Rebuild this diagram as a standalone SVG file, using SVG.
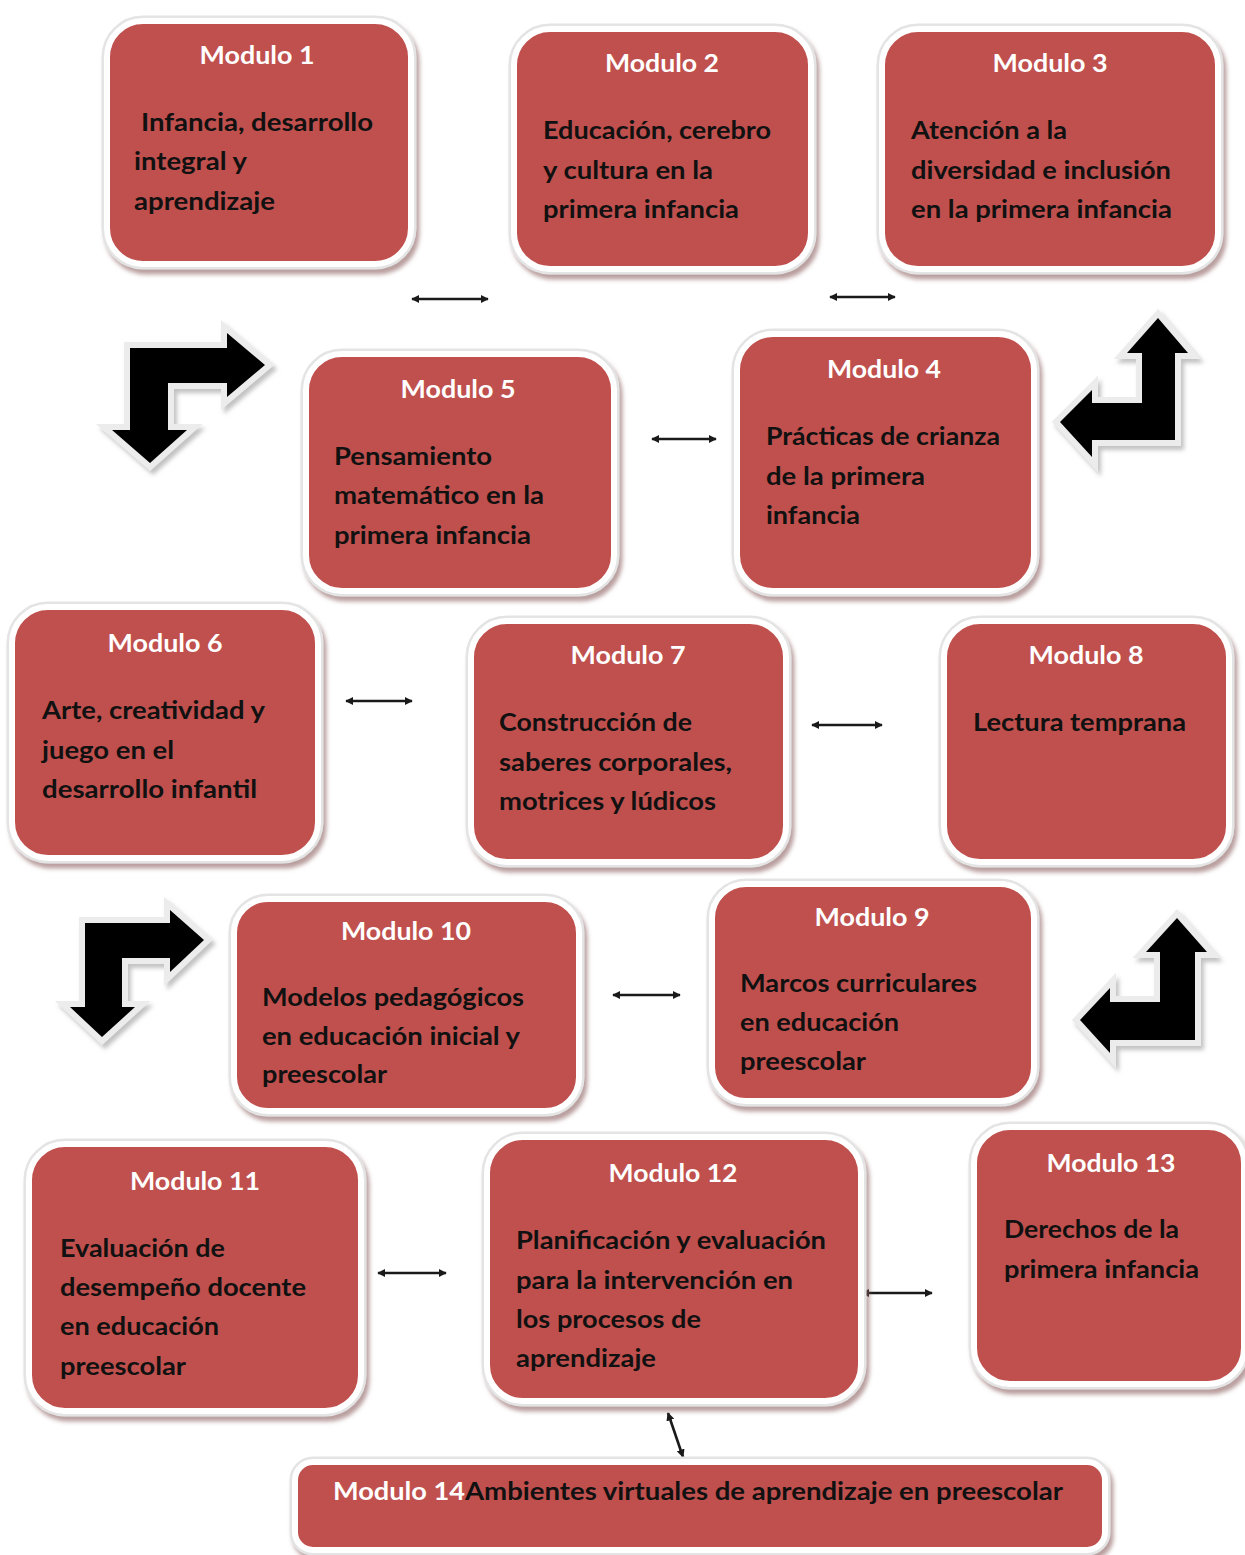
<svg xmlns="http://www.w3.org/2000/svg" width="1245" height="1555" viewBox="0 0 1245 1555">
<defs>
<style>
.halo{fill:#C0504D;stroke:#e4e4e4;stroke-width:11;filter:url(#sh)}
.f{fill:#C0504D;stroke:#ffffff;stroke-width:6}
.t{font-family:Lato,"Open Sans","DejaVu Sans",sans-serif;font-weight:700;font-size:25px}
.h{fill:#ffffff;text-anchor:middle}
.hs{fill:#ffffff}
.b{fill:#111111}
.con line{stroke:#1a1a1a;stroke-width:2.6;marker-start:url(#ah);marker-end:url(#ah)}
.bh{fill:#ececec;stroke:#ececec;stroke-width:12;stroke-linejoin:miter;filter:url(#sh2)}
.bk{fill:#000000}
</style>
<filter id="sh" x="-10%" y="-10%" width="125%" height="130%">
<feDropShadow dx="3" dy="5" stdDeviation="2" flood-color="#8c5f5f" flood-opacity="0.6"/>
</filter>
<filter id="sh2" x="-20%" y="-20%" width="150%" height="150%">
<feDropShadow dx="3" dy="4" stdDeviation="2" flood-color="#9a9a9a" flood-opacity="0.6"/>
</filter>
<marker id="ah" viewBox="0 0 10 10" refX="9" refY="5" markerWidth="3.2" markerHeight="3.2" orient="auto-start-reverse">
<path d="M0,0 L10,5 L0,10 z" fill="#1a1a1a"/>
</marker>
</defs>
<rect width="1245" height="1555" fill="#ffffff"/>

<g id="bent-arrows">
<g id="bent1">
<polygon class="bh" points="130,348 227,348 227,333 265,365 227,397 227,383 168,383 168,430 187,430 150,463 112,430 130,430"/>
<polygon class="bk" points="130,348 227,348 227,333 265,365 227,397 227,383 168,383 168,430 187,430 150,463 112,430 130,430"/>
</g>
<g id="bent2">
<polygon class="bh" points="1158,318 1188,353 1175,353 1175,440 1092,440 1092,457 1060,422 1092,390 1092,403 1142,403 1142,353 1127,353"/>
<polygon class="bk" points="1158,318 1188,353 1175,353 1175,440 1092,440 1092,457 1060,422 1092,390 1092,403 1142,403 1142,353 1127,353"/>
</g>
<g id="bent3">
<polygon class="bh" points="85,923 170,923 170,910 204,940 170,972 170,958 122,958 122,1007 135,1007 102,1037 70,1007 85,1007"/>
<polygon class="bk" points="85,923 170,923 170,910 204,940 170,972 170,958 122,958 122,1007 135,1007 102,1037 70,1007 85,1007"/>
</g>
<g id="bent4">
<polygon class="bh" points="1177,918 1207,952 1195,952 1195,1040 1110,1040 1110,1053 1080,1020 1110,988 1110,1002 1160,1002 1160,952 1146,952"/>
<polygon class="bk" points="1177,918 1207,952 1195,952 1195,1040 1110,1040 1110,1053 1080,1020 1110,988 1110,1002 1160,1002 1160,952 1146,952"/>
</g>
</g>

<g id="connectors" class="con">
<line x1="412" y1="299" x2="488" y2="299"/>
<line x1="830" y1="297" x2="895" y2="297"/>
<line x1="652" y1="439" x2="716" y2="439"/>
<line x1="346" y1="701" x2="412" y2="701"/>
<line x1="812" y1="725" x2="882" y2="725"/>
<line x1="613" y1="995" x2="680" y2="995"/>
<line x1="378" y1="1273" x2="446" y2="1273"/>
<line x1="862" y1="1293" x2="932" y2="1293"/>
<line x1="668" y1="1413" x2="683" y2="1457"/>
</g>

<g id="modulo1">
<rect class="halo" x="107" y="21" width="304" height="243" rx="36"/>
<rect class="f" x="107" y="21" width="304" height="243" rx="36"/>
<text class="t h" x="257" y="64" textLength="115" lengthAdjust="spacingAndGlyphs">Modulo 1</text>
<text class="t b" x="141" y="131" textLength="232" lengthAdjust="spacingAndGlyphs">Infancia, desarrollo</text>
<text class="t b" x="134" y="170" textLength="113" lengthAdjust="spacingAndGlyphs">integral y</text>
<text class="t b" x="134" y="210" textLength="141" lengthAdjust="spacingAndGlyphs">aprendizaje</text>
</g>

<g id="modulo2">
<rect class="halo" x="514" y="29" width="297" height="240" rx="36"/>
<rect class="f" x="514" y="29" width="297" height="240" rx="36"/>
<text class="t h" x="662" y="72" textLength="114" lengthAdjust="spacingAndGlyphs">Modulo 2</text>
<text class="t b" x="543" y="139" textLength="228" lengthAdjust="spacingAndGlyphs">Educación, cerebro</text>
<text class="t b" x="543" y="179" textLength="170" lengthAdjust="spacingAndGlyphs">y cultura en la</text>
<text class="t b" x="543" y="218" textLength="196" lengthAdjust="spacingAndGlyphs">primera infancia</text>
</g>

<g id="modulo3">
<rect class="halo" x="882" y="29" width="336" height="240" rx="36"/>
<rect class="f" x="882" y="29" width="336" height="240" rx="36"/>
<text class="t h" x="1050" y="72" textLength="115" lengthAdjust="spacingAndGlyphs">Modulo 3</text>
<text class="t b" x="911" y="139" textLength="156" lengthAdjust="spacingAndGlyphs">Atención a la</text>
<text class="t b" x="911" y="179" textLength="260" lengthAdjust="spacingAndGlyphs">diversidad e inclusión</text>
<text class="t b" x="911" y="218" textLength="261" lengthAdjust="spacingAndGlyphs">en la primera infancia</text>
</g>

<g id="modulo5">
<rect class="halo" x="306" y="354" width="308" height="237" rx="36"/>
<rect class="f" x="306" y="354" width="308" height="237" rx="36"/>
<text class="t h" x="458" y="398" textLength="115" lengthAdjust="spacingAndGlyphs">Modulo 5</text>
<text class="t b" x="334" y="465" textLength="158" lengthAdjust="spacingAndGlyphs">Pensamiento</text>
<text class="t b" x="334" y="504" textLength="210" lengthAdjust="spacingAndGlyphs">matemático en la</text>
<text class="t b" x="334" y="544" textLength="197" lengthAdjust="spacingAndGlyphs">primera infancia</text>
</g>

<g id="modulo4">
<rect class="halo" x="737" y="334" width="297" height="257" rx="36"/>
<rect class="f" x="737" y="334" width="297" height="257" rx="36"/>
<text class="t h" x="884" y="378" textLength="114" lengthAdjust="spacingAndGlyphs">Modulo 4</text>
<text class="t b" x="766" y="445" textLength="234" lengthAdjust="spacingAndGlyphs">Prácticas de crianza</text>
<text class="t b" x="766" y="485" textLength="159" lengthAdjust="spacingAndGlyphs">de la primera</text>
<text class="t b" x="766" y="524" textLength="94" lengthAdjust="spacingAndGlyphs">infancia</text>
</g>

<g id="modulo6">
<rect class="halo" x="12" y="607" width="306" height="251" rx="36"/>
<rect class="f" x="12" y="607" width="306" height="251" rx="36"/>
<text class="t h" x="165" y="652" textLength="115" lengthAdjust="spacingAndGlyphs">Modulo 6</text>
<text class="t b" x="42" y="719" textLength="223" lengthAdjust="spacingAndGlyphs">Arte, creatividad y</text>
<text class="t b" x="42" y="759" textLength="132" lengthAdjust="spacingAndGlyphs">juego en el</text>
<text class="t b" x="42" y="798" textLength="215" lengthAdjust="spacingAndGlyphs">desarrollo infantil</text>
</g>

<g id="modulo7">
<rect class="halo" x="471" y="621" width="315" height="241" rx="36"/>
<rect class="f" x="471" y="621" width="315" height="241" rx="36"/>
<text class="t h" x="628" y="664" textLength="115" lengthAdjust="spacingAndGlyphs">Modulo 7</text>
<text class="t b" x="499" y="731" textLength="193" lengthAdjust="spacingAndGlyphs">Construcción de</text>
<text class="t b" x="499" y="771" textLength="233" lengthAdjust="spacingAndGlyphs">saberes corporales,</text>
<text class="t b" x="499" y="810" textLength="217" lengthAdjust="spacingAndGlyphs">motrices y lúdicos</text>
</g>

<g id="modulo8">
<rect class="halo" x="944" y="621" width="285" height="241" rx="36"/>
<rect class="f" x="944" y="621" width="285" height="241" rx="36"/>
<text class="t h" x="1086" y="664" textLength="115" lengthAdjust="spacingAndGlyphs">Modulo 8</text>
<text class="t b" x="973" y="731" textLength="213" lengthAdjust="spacingAndGlyphs">Lectura temprana</text>
</g>

<g id="modulo10">
<rect class="halo" x="234" y="899" width="345" height="212" rx="34"/>
<rect class="f" x="234" y="899" width="345" height="212" rx="34"/>
<text class="t h" x="406" y="940" textLength="130" lengthAdjust="spacingAndGlyphs">Modulo 10</text>
<text class="t b" x="262" y="1006" textLength="262" lengthAdjust="spacingAndGlyphs">Modelos pedagógicos</text>
<text class="t b" x="262" y="1045" textLength="258" lengthAdjust="spacingAndGlyphs">en educación inicial y</text>
<text class="t b" x="262" y="1083" textLength="125" lengthAdjust="spacingAndGlyphs">preescolar</text>
</g>

<g id="modulo9">
<rect class="halo" x="712" y="884" width="322" height="217" rx="34"/>
<rect class="f" x="712" y="884" width="322" height="217" rx="34"/>
<text class="t h" x="872" y="926" textLength="115" lengthAdjust="spacingAndGlyphs">Modulo 9</text>
<text class="t b" x="740" y="992" textLength="237" lengthAdjust="spacingAndGlyphs">Marcos curriculares</text>
<text class="t b" x="740" y="1031" textLength="159" lengthAdjust="spacingAndGlyphs">en educación</text>
<text class="t b" x="740" y="1070" textLength="126" lengthAdjust="spacingAndGlyphs">preescolar</text>
</g>

<g id="modulo11">
<rect class="halo" x="29" y="1144" width="332" height="267" rx="36"/>
<rect class="f" x="29" y="1144" width="332" height="267" rx="36"/>
<text class="t h" x="195" y="1190" textLength="130" lengthAdjust="spacingAndGlyphs">Modulo 11</text>
<text class="t b" x="60" y="1257" textLength="165" lengthAdjust="spacingAndGlyphs">Evaluación de</text>
<text class="t b" x="60" y="1296" textLength="246" lengthAdjust="spacingAndGlyphs">desempeño docente</text>
<text class="t b" x="60" y="1335" textLength="159" lengthAdjust="spacingAndGlyphs">en educación</text>
<text class="t b" x="60" y="1375" textLength="126" lengthAdjust="spacingAndGlyphs">preescolar</text>
</g>

<g id="modulo12">
<rect class="halo" x="487" y="1137" width="374" height="264" rx="36"/>
<rect class="f" x="487" y="1137" width="374" height="264" rx="36"/>
<text class="t h" x="673" y="1182" textLength="129" lengthAdjust="spacingAndGlyphs">Modulo 12</text>
<text class="t b" x="516" y="1249" textLength="310" lengthAdjust="spacingAndGlyphs">Planificación y evaluación</text>
<text class="t b" x="516" y="1289" textLength="277" lengthAdjust="spacingAndGlyphs">para la intervención en</text>
<text class="t b" x="516" y="1328" textLength="185" lengthAdjust="spacingAndGlyphs">los procesos de</text>
<text class="t b" x="516" y="1367" textLength="140" lengthAdjust="spacingAndGlyphs">aprendizaje</text>
</g>

<g id="modulo13">
<rect class="halo" x="974" y="1127" width="270" height="257" rx="36"/>
<rect class="f" x="974" y="1127" width="270" height="257" rx="36"/>
<text class="t h" x="1111" y="1172" textLength="129" lengthAdjust="spacingAndGlyphs">Modulo 13</text>
<text class="t b" x="1004" y="1238" textLength="175" lengthAdjust="spacingAndGlyphs">Derechos de la</text>
<text class="t b" x="1004" y="1278" textLength="195" lengthAdjust="spacingAndGlyphs">primera infancia</text>
</g>

<g id="modulo14">
<rect class="halo" x="295" y="1462" width="810" height="88" rx="18"/>
<rect class="f" x="295" y="1462" width="810" height="88" rx="18"/>
<text class="t hs" x="333" y="1500" textLength="132" lengthAdjust="spacingAndGlyphs">Modulo 14</text>
<text class="t b" x="465" y="1500" textLength="598" lengthAdjust="spacingAndGlyphs">Ambientes virtuales de aprendizaje en preescolar</text>
</g>
</svg>
